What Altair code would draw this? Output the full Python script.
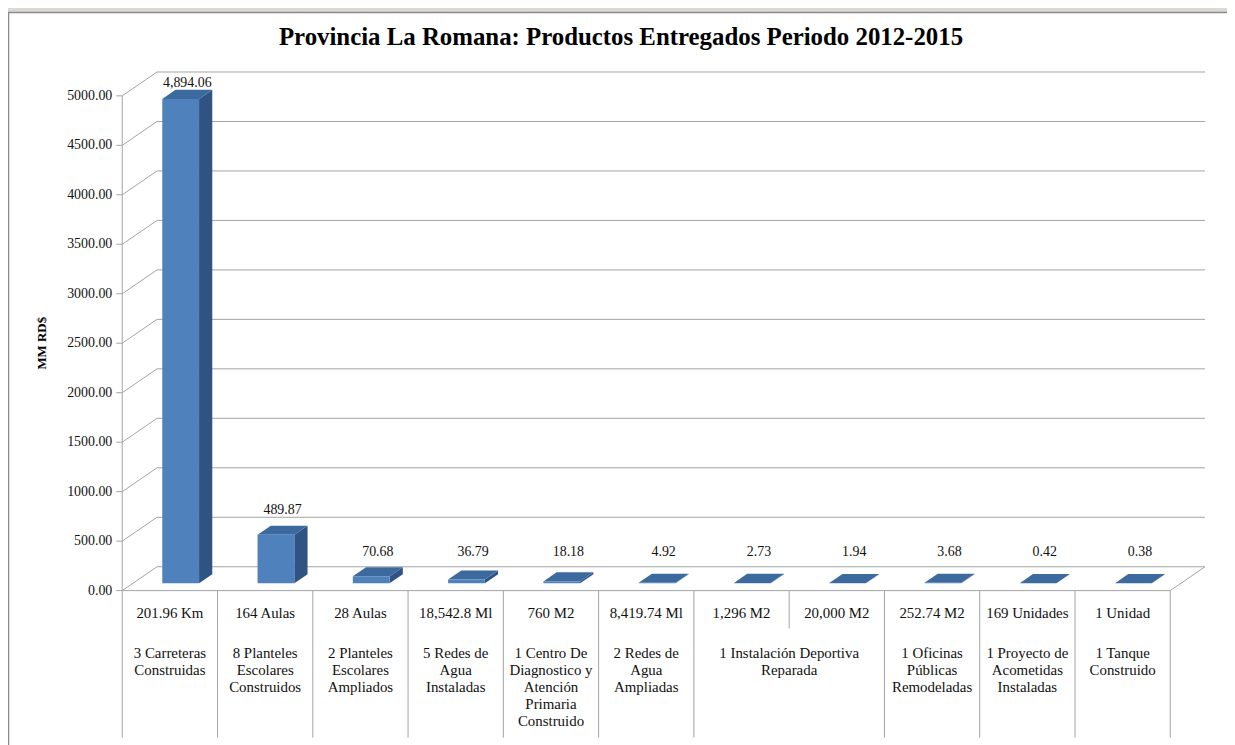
import altair as alt
import pandas as pd

# ---------------- data ----------------
chart_title = "Provincia La Romana: Productos Entregados Periodo 2012-2015"
y_title = "MM RD$"
values = [4894.06, 489.87, 70.68, 36.79, 18.18, 4.92, 2.73, 1.94, 3.68, 0.42, 0.38]
units = ["201.96 Km", "164 Aulas", "28 Aulas", "18,542.8 Ml", "760 M2",
         "8,419.74 Ml", "1,296 M2", "20,000 M2", "252.74 M2", "169 Unidades", "1 Unidad"]
groups = ["3 Carreteras\nConstruidas",
          "8 Planteles\nEscolares\nConstruidos",
          "2 Planteles\nEscolares\nAmpliados",
          "5 Redes de\nAgua\nInstaladas",
          "1 Centro De\nDiagnostico y\nAtención\nPrimaria\nConstruido",
          "2 Redes de\nAgua\nAmpliadas",
          "1 Instalación Deportiva\nReparada",
          "1 Oficinas\nPúblicas\nRemodeladas",
          "1 Proyecto de\nAcometidas\nInstaladas",
          "1 Tanque\nConstruido"]
group_spans = [1, 1, 1, 1, 1, 1, 2, 1, 1, 1]
y_ticks = [0, 500, 1000, 1500, 2000, 2500, 3000, 3500, 4000, 4500, 5000]

# ---------------- geometry (pixel anchors -> data units) ----------------
N = len(values)
W, H = 1227, 737            # view covers the whole page area
ORG_X, ORG_Y = 8, 8         # page margin
X0PX, CATPX = 123.0, 95.9   # front axis x, pixels per category
Y0PX, VPX = 592.0, 0.0996   # front floor y, pixels per value unit


def cx(px):
    return (px - X0PX) / CATPX


def vy(py):
    return (Y0PX - py) / VPX


xdom = [cx(ORG_X), cx(ORG_X + W)]
ydom = [vy(ORG_Y + H), vy(ORG_Y)]
XS = alt.Scale(domain=xdom, nice=False, zero=False)
YS = alt.Scale(domain=ydom, nice=False, zero=False)

DXF = 35 / CATPX      # full depth offset (x, category units)
DVF = 24 / VPX        # full depth offset (y, value units)
F1, F2 = 0.31, 0.69   # bar front / back depth fraction
HALF = 0.193          # bar half width (category units)

FONT = "Liberation Serif"
GRID = "#a3a3a3"


def X(f="x"):
    return alt.X(f"{f}:Q", scale=XS, axis=None)


def Y(f="y"):
    return alt.Y(f"{f}:Q", scale=YS, axis=None, stack=None)


def rules(df, color=GRID, width=1.0):
    return alt.Chart(df).mark_rule(color=color, strokeWidth=width).encode(
        x=X("x"), x2="x2:Q", y=Y("y"), y2="y2:Q")


# white chart box
box = alt.Chart(pd.DataFrame([{"x": cx(8.5), "x2": cx(1400), "y": vy(10), "y2": vy(900)}])).mark_rect(
    fill="white", stroke="#8a8a8a", strokeWidth=1.5).encode(x=X("x"), x2="x2:Q", y=Y("y"), y2="y2:Q")

# back wall gridlines + left wall slants
grid_rows = []
for v in y_ticks:
    grid_rows.append({"x": DXF, "x2": N + DXF, "y": v + DVF, "y2": v + DVF})
    grid_rows.append({"x": 0, "x2": DXF, "y": v, "y2": v + DVF})
# floor right edge
grid_rows.append({"x": N, "x2": N + DXF, "y": 0, "y2": DVF})
grid = rules(pd.DataFrame(grid_rows))

front_rows = [{"x": 0, "x2": N, "y": 0, "y2": 0},
              {"x": 0, "x2": 0, "y": 0, "y2": y_ticks[-1]}]
for v in y_ticks:
    front_rows.append({"x": cx(117), "x2": 0, "y": v, "y2": v})
front = rules(pd.DataFrame(front_rows))

# category separators
sep_rows = []
bounds = [0]
for s in group_spans:
    bounds.append(bounds[-1] + s)
for c in range(N + 1):
    bottom = vy(740) if c in bounds else vy(630)
    sep_rows.append({"x": c, "x2": c, "y": 0, "y2": bottom})
seps = rules(pd.DataFrame(sep_rows))

# ---------------- 3D bars ----------------
front_faces, side_pts, top_pts = [], [], []
d = (F2 - F1) * DXF
for i, v in enumerate(values):
    x0 = i + 0.5 - HALF + F1 * DXF
    x1 = i + 0.5 + HALF + F1 * DXF
    yb1, yb2 = F1 * DVF, F2 * DVF
    front_faces.append({"x": x0, "x2": x1, "y": yb1, "y2": v + yb1})
    side_pts += [{"id": i, "x": x1, "y": yb1, "y2": v + yb1},
                 {"id": i, "x": x1 + d, "y": yb2, "y2": v + yb2}]
    top_pts += [{"id": i, "x": x0, "y": v + yb1, "y2": v + yb1},
                {"id": i, "x": x0 + d, "y": v + yb1, "y2": v + yb2},
                {"id": i, "x": x1, "y": v + yb1, "y2": v + yb2},
                {"id": i, "x": x1 + d, "y": v + yb2, "y2": v + yb2}]

bar_front = alt.Chart(pd.DataFrame(front_faces)).mark_rect(color="#4F81BD").encode(
    x=X("x"), x2="x2:Q", y=Y("y"), y2="y2:Q")
bar_side = alt.Chart(pd.DataFrame(side_pts)).mark_area(color="#2F5483", opacity=1).encode(
    x=X("x"), y=Y("y"), y2="y2:Q", detail="id:N")
bar_top = alt.Chart(pd.DataFrame(top_pts)).mark_area(color="#3D6A9E", opacity=1).encode(
    x=X("x"), y=Y("y"), y2="y2:Q", detail="id:N")

# ---------------- texts ----------------
lab_rows = []
for i, v in enumerate(values):
    lv = min(max(v, 70.0), vy(81) - 32 / VPX)
    lab_rows.append({"x": i + 0.5 + 0.5 * DXF, "y": lv + 32 / VPX, "v": v})
val_labels = alt.Chart(pd.DataFrame(lab_rows)).mark_text(
    font=FONT, fontSize=14, color="#111", baseline="middle", align="center").encode(
    x=X("x"), y=Y("y"), text=alt.Text("v:Q", format=",.2f"))

ytick_df = pd.DataFrame({"x": [cx(113)] * len(y_ticks), "y": y_ticks, "v": y_ticks})
ylabels = alt.Chart(ytick_df).mark_text(
    font=FONT, fontSize=14, color="#111", baseline="middle", align="right").encode(
    x=X("x"), y=Y("y"), text=alt.Text("v:Q", format=".2f"))

unit_df = pd.DataFrame({"x": [i + 0.5 for i in range(N)], "y": [vy(615)] * N, "t": units})
unit_labels = alt.Chart(unit_df).mark_text(
    font=FONT, fontSize=15, color="#111", baseline="middle", align="center").encode(
    x=X("x"), y=Y("y"), text="t:N")

gx = [(bounds[k] + bounds[k + 1]) / 2 for k in range(len(groups))]
group_df = pd.DataFrame({"x": gx, "y": [vy(648)] * len(groups), "t": groups})
group_labels = alt.Chart(group_df).mark_text(
    font=FONT, fontSize=15, color="#111", baseline="top", align="center",
    lineBreak="\n", lineHeight=17).encode(x=X("x"), y=Y("y"), text="t:N")

title_df = pd.DataFrame([{"x": cx(625), "y": vy(35), "t": chart_title}])
title_text = alt.Chart(title_df).mark_text(
    font=FONT, fontSize=25, fontWeight="bold", color="#000", baseline="middle", align="center").encode(
    x=X("x"), y=Y("y"), text="t:N")

ytitle_df = pd.DataFrame([{"x": cx(42), "y": vy(343), "t": y_title}])
ytitle_text = alt.Chart(ytitle_df).mark_text(
    font=FONT, fontSize=13, fontWeight="bold", color="#000", baseline="middle", align="center",
    angle=270).encode(x=X("x"), y=Y("y"), text="t:N")

chart = alt.layer(
    box, grid, front, seps, bar_side, bar_top, bar_front,
    val_labels, ylabels, unit_labels, group_labels, title_text, ytitle_text
).properties(
    width=W, height=H, padding=0, background="#dcd9d5",
    autosize=alt.AutoSizeParams(type="none")
).configure_view(stroke=None)

chart.save("out.html", embed_options={"renderer": "svg", "actions": False})
